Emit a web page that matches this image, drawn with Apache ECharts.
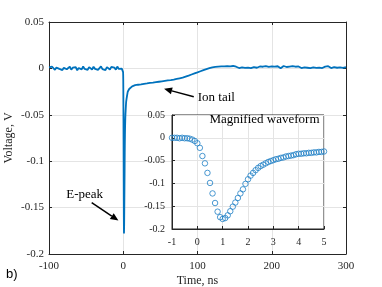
<!DOCTYPE html>
<html><head><meta charset="utf-8">
<script src="https://cdn.jsdelivr.net/npm/echarts@6/dist/echarts.min.js"></script>
<style>html,body{margin:0;padding:0;background:#fff}#c{width:382px;height:287px}</style>
</head><body><div id="c"></div>
<script>
// Main trace: baseline before the pulse (t = -100 ... -2 ns, step 2 ns)
const preStart = -100, preStep = 2;
const preValues = [0.0012,-0.0008,0.0018,0.0003,-0.0015,0.0009,0.0022,-0.0005,0.0014,-0.0018,
  0.0006,0.0016,-0.0009,0.0003,0.0020,-0.0014,0.0008,-0.0003,0.0015,-0.0020,
  0.0005,0.0012,-0.0011,0.0021,-0.0006,0.0009,-0.0016,0.0014,0.0002,-0.0012,
  0.0018,-0.0005,0.0011,-0.0015,0.0006,0.0022,-0.0008,0.0003,-0.0018,0.0014,
  0.0005,-0.0011,0.0016,-0.0003,0.0009,-0.0014,0.0020,-0.0006,0.0008,-0.0002];
// Magnified waveform (t = -1 ... 5 ns, step 0.1 ns)
const peakStart = -1, peakStep = 0.1;
const peakValues = [0.000,0.000,0.000,-0.001,0.000,-0.001,-0.001,-0.002,-0.004,-0.007,
  -0.012,-0.022,-0.040,-0.056,-0.077,-0.099,-0.122,-0.143,-0.162,-0.174,
  -0.178,-0.176,-0.170,-0.161,-0.151,-0.142,-0.132,-0.122,-0.113,-0.101,
  -0.091,-0.083,-0.077,-0.071,-0.066,-0.062,-0.059,-0.056,-0.053,-0.051,
  -0.049,-0.047,-0.046,-0.044,-0.043,-0.041,-0.040,-0.039,-0.038,-0.036,
  -0.035,-0.035,-0.034,-0.034,-0.033,-0.033,-0.032,-0.032,-0.031,-0.031,-0.030];
// Ion tail and later (t = 6 ... 300 ns, step 2 ns)
const postStart = 6, postStep = 2;
const postValues = [-0.0252,-0.0222,-0.0210,-0.0193,-0.0195,-0.0181,-0.0190,-0.0176,-0.0186,-0.0172,
  -0.0181,-0.0166,-0.0177,-0.0162,-0.0173,-0.0156,-0.0168,-0.0154,-0.0165,-0.0149,
  -0.0159,-0.0144,-0.0155,-0.0139,-0.0149,-0.0134,-0.0145,-0.0129,-0.0140,-0.0126,
  -0.0138,-0.0121,-0.0131,-0.0114,-0.0124,-0.0107,-0.0117,-0.0100,-0.0108,-0.0089,
  -0.0097,-0.0078,-0.0087,-0.0066,-0.0075,-0.0054,-0.0063,-0.0043,-0.0051,-0.0031,
  -0.0039,-0.0019,-0.0027,-0.0008,-0.0017,0.0002,-0.0006,0.0011,-0.0001,0.0016,
  0.0003,0.0019,0.0006,0.0021,0.0007,0.0022,0.0008,0.0024,0.0009,0.0021,
  0.0012,0.0026,0.0005,0.0018,0.0023,0.0004,0.0016,0.0011,0.0027,0.0006,
  0.0019,0.0009,0.0024,0.0002,0.0017,0.0013,0.0028,0.0007,0.0015,0.0021,
  0.0004,0.0018,0.0010,0.0025,0.0008,0.0016,0.0003,0.0022,0.0012,0.0019,
  0.0006,0.0023,0.0014,0.0001,0.0017,0.0026,0.0009,0.0015,0.0005,0.0020,
  0.0011,0.0024,0.0003,0.0018,0.0008,0.0021,0.0013,0.0004,0.0019,0.0010,
  0.0025,0.0007,0.0016,0.0002,0.0020,0.0012,0.0027,0.0006,0.0017,0.0009,
  0.0022,0.0004,0.0015,0.0019,0.0008,0.0024,0.0011,0.0003,0.0018,0.0013,
  0.0026,0.0007,0.0020,0.0010,0.0016,0.0005,0.0021,0.0014];

const mainXRange = [-100, 300, 100];
const mainYRange = [-0.2, 0.05, 0.05];
const insetXRange = [-1, 5, 1];
const insetYRange = [-0.2, 0.05, 0.05];
const labels = {x: 'Time, ns', y: 'Voltage, V', inset: 'Magnified waveform', tail: 'Ion tail', peak: 'E-peak', panel: 'b)'};

function toPairs(start, step, vals) { return vals.map((v, i) => [+(start + i * step).toFixed(3), v]); }
const peakPairs = toPairs(peakStart, peakStep, peakValues);
const mainData = toPairs(preStart, preStep, preValues).concat(peakPairs, toPairs(postStart, postStep, postValues));

const SERIF = 'Liberation Serif';
const AX = '#262626';
const GRID = '#e4e4e4';
const fmt = v => String(+v.toFixed(2));

const chart = echarts.init(document.getElementById('c'), null, {renderer: 'canvas'});
function valAxis(range, extra) {
  return Object.assign({
    type: 'value', min: range[0], max: range[1], interval: range[2],
    axisLine: {show: true, onZero: false, lineStyle: {color: AX, width: 1}},
    axisTick: {show: true, inside: true, length: 3, lineStyle: {color: AX}},
    splitLine: {show: true, lineStyle: {color: GRID, width: 1}},
    axisLabel: {fontFamily: SERIF, fontSize: 11, color: AX, formatter: fmt}
  }, extra);
}
const option = {
  animation: false,
  grid: [
    {left: 49, right: 36, top: 22, bottom: 33, z: 0, containLabel: false, outerBoundsMode: 'none'},
    {left: 172, top: 115, width: 152, height: 114, show: true, backgroundColor: '#fff', borderColor: AX, borderWidth: 1, z: 5, containLabel: false, outerBoundsMode: 'none'}
  ],
  xAxis: [
    valAxis(mainXRange, {gridIndex: 0, name: labels.x, nameLocation: 'middle', nameGap: 21, nameMoveOverlap: false,
      nameTextStyle: {fontFamily: SERIF, fontSize: 12, color: AX}, axisLabel: {fontFamily: SERIF, fontSize: 11, color: AX, margin: 7}}),
    valAxis(mainXRange, {gridIndex: 0, position: 'top', splitLine: {show: false}, axisLabel: {show: false}}),
    valAxis(insetXRange, {gridIndex: 1, z: 6, axisLabel: {fontFamily: SERIF, fontSize: 10, color: AX, margin: 8}})
  ],
  yAxis: [
    valAxis(mainYRange, {gridIndex: 0, name: labels.y, nameLocation: 'middle', nameGap: 34, nameRotate: 90, nameMoveOverlap: false,
      nameTextStyle: {fontFamily: SERIF, fontSize: 12, color: AX}, axisLabel: {fontFamily: SERIF, fontSize: 11, color: AX, margin: 5, formatter: fmt}}),
    valAxis(mainYRange, {gridIndex: 0, position: 'right', splitLine: {show: false}, axisLabel: {show: false}}),
    valAxis(insetYRange, {gridIndex: 1, z: 6, axisLabel: {fontFamily: SERIF, fontSize: 10, color: AX, margin: 7, formatter: fmt}})
  ],
  series: [
    {type: 'line', xAxisIndex: 0, yAxisIndex: 0, data: mainData, showSymbol: false, z: 2,
      lineStyle: {color: '#0072BD', width: 1.8}},
    {type: 'scatter', xAxisIndex: 2, yAxisIndex: 2, data: peakPairs, symbol: 'circle', symbolSize: 5.5, z: 7,
      itemStyle: {color: 'rgba(0,0,0,0)', borderColor: '#1f7fc6', borderWidth: 1}}
  ]
};
chart.setOption(option);

function arrow(from, to, headLen, headW) {
  const dx = to[0] - from[0], dy = to[1] - from[1];
  const L = Math.hypot(dx, dy), ux = dx / L, uy = dy / L;
  const bx = to[0] - ux * headLen, by = to[1] - uy * headLen;
  return [
    {type: 'line', z: 20, shape: {x1: from[0], y1: from[1], x2: bx, y2: by}, style: {stroke: '#000', lineWidth: 1.5}},
    {type: 'polygon', z: 20, shape: {points: [to, [bx - uy * headW, by + ux * headW], [bx + uy * headW, by - ux * headW]]}, style: {fill: '#000'}}
  ];
}
const p = (t, v) => chart.convertToPixel({xAxisIndex: 0, yAxisIndex: 0}, [t, v]);
const q = (t, v) => chart.convertToPixel({xAxisIndex: 2, yAxisIndex: 2}, [t, v]);
const tailTip = p(55, -0.022), tailFrom = p(95, -0.0305);
const peakTip = p(-6.5, -0.164), peakFrom = p(-42.5, -0.1447);
const insetTitle = q(2.65, 0.041);
const graphics = [].concat(
  arrow(tailFrom, tailTip, 8, 3.5),
  arrow(peakFrom, peakTip, 8, 3.5),
  [
    {type: 'text', z: 20, x: tailFrom[0] + 4, y: tailFrom[1] + 1, style: {text: labels.tail, font: '13px "Liberation Serif"', fill: '#000', textVerticalAlign: 'middle'}},
    {type: 'text', z: 20, x: peakFrom[0] - 7, y: peakFrom[1] - 8, style: {text: labels.peak, font: '13px "Liberation Serif"', fill: '#000', textAlign: 'center', textVerticalAlign: 'middle'}},
    {type: 'text', z: 20, x: insetTitle[0], y: insetTitle[1], style: {text: labels.inset, font: '13px "Liberation Serif"', fill: '#000', textAlign: 'center', textVerticalAlign: 'middle'}},
    {type: 'text', z: 20, x: 6, y: 274, style: {text: labels.panel, font: '13px "Liberation Sans"', fill: '#000', textVerticalAlign: 'middle'}}
  ]
);
chart.setOption({graphic: graphics});
</script></body></html>
